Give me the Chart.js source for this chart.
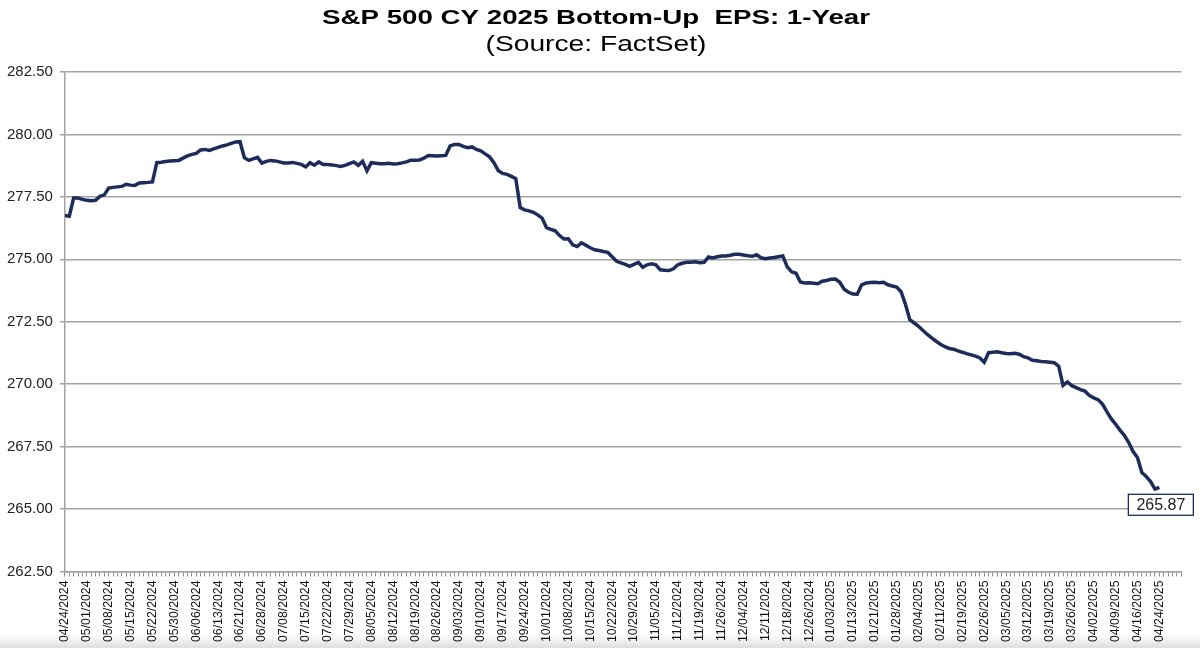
<!DOCTYPE html>
<html>
<head>
<meta charset="utf-8">
<title>S&amp;P 500 CY 2025 Bottom-Up EPS: 1-Year</title>
<script src="https://cdn.jsdelivr.net/npm/chart.js@4.4.1/dist/chart.umd.min.js"></script>
<style>
  html, body { margin: 0; padding: 0; }
  body {
    width: 1200px; height: 648px; overflow: hidden;
    background: linear-gradient(to bottom, #ffffff 0px, #ffffff 634px, #dedede 648px);
    font-family: "Liberation Sans", Arial, sans-serif;
  }
  #wrap { position: relative; width: 1200px; height: 648px; }
</style>
</head>
<body>
<div id="wrap"><canvas id="epsChart"></canvas></div>
<script>
// Title texts
const chartTitle = "S&P 500 CY 2025 Bottom-Up  EPS: 1-Year";
const chartSubtitle = "(Source: FactSet)";

// Tick labels on the x axis, one every 5 trading days
const weekLabels = [
  "04/24/2024", "05/01/2024", "05/08/2024", "05/15/2024", "05/22/2024", "05/30/2024",
  "06/06/2024", "06/13/2024", "06/21/2024", "06/28/2024", "07/08/2024", "07/15/2024",
  "07/22/2024", "07/29/2024", "08/05/2024", "08/12/2024", "08/19/2024", "08/26/2024",
  "09/03/2024", "09/10/2024", "09/17/2024", "09/24/2024", "10/01/2024", "10/08/2024",
  "10/15/2024", "10/22/2024", "10/29/2024", "11/05/2024", "11/12/2024", "11/19/2024",
  "11/26/2024", "12/04/2024", "12/11/2024", "12/18/2024", "12/26/2024", "01/03/2025",
  "01/13/2025", "01/21/2025", "01/28/2025", "02/04/2025", "02/11/2025", "02/19/2025",
  "02/26/2025", "03/05/2025", "03/12/2025", "03/19/2025", "03/26/2025", "04/02/2025",
  "04/09/2025", "04/16/2025", "04/24/2025"
];

// Daily bottom-up EPS (trading days), 5 per row
const epsDaily = [
  276.75, 276.72, 277.45, 277.45, 277.40,
  277.36, 277.34, 277.36, 277.52, 277.58,
  277.85, 277.88, 277.90, 277.92, 278.00,
  277.97, 277.96, 278.06, 278.07, 278.08,
  278.10, 278.87, 278.89, 278.92, 278.94,
  278.95, 278.96, 279.05, 279.14, 279.20,
  279.24, 279.38, 279.40, 279.36, 279.42,
  279.48, 279.54, 279.58, 279.64, 279.70,
  279.71, 279.07, 278.96, 279.02, 279.08,
  278.85, 278.92, 278.96, 278.94, 278.90,
  278.86, 278.86, 278.88, 278.84, 278.80,
  278.70, 278.87, 278.77, 278.90, 278.80,
  278.80, 278.78, 278.75, 278.72, 278.76,
  278.83, 278.90, 278.76, 278.93, 278.54,
  278.87, 278.85, 278.83, 278.83, 278.85,
  278.82, 278.83, 278.86, 278.90, 278.97,
  278.97, 278.98, 279.05, 279.16, 279.15,
  279.14, 279.15, 279.16, 279.54, 279.60,
  279.60, 279.52, 279.47, 279.50, 279.40,
  279.34, 279.22, 279.10, 278.87, 278.55,
  278.44, 278.40, 278.32, 278.23, 277.07,
  276.98, 276.94, 276.88, 276.78, 276.65,
  276.27, 276.20, 276.14, 275.95, 275.81,
  275.82, 275.58, 275.51, 275.66, 275.56,
  275.46, 275.38, 275.35, 275.31, 275.28,
  275.10, 274.92, 274.86, 274.80, 274.72,
  274.80, 274.88, 274.68, 274.78, 274.82,
  274.78, 274.58, 274.56, 274.55, 274.62,
  274.78, 274.84, 274.88, 274.88, 274.90,
  274.86, 274.88, 275.09, 275.05, 275.10,
  275.13, 275.13, 275.16, 275.20, 275.20,
  275.17, 275.14, 275.12, 275.18, 275.06,
  275.02, 275.05, 275.07, 275.10, 275.13,
  274.70, 274.50, 274.44, 274.09, 274.05,
  274.06, 274.04, 274.02, 274.12, 274.15,
  274.20, 274.21, 274.08, 273.80, 273.68,
  273.61, 273.60, 273.98, 274.05, 274.07,
  274.08, 274.06, 274.08, 273.98, 273.93,
  273.89, 273.70, 273.20, 272.58, 272.45,
  272.32, 272.15, 271.99, 271.85, 271.72,
  271.60, 271.50, 271.43, 271.40, 271.33,
  271.28, 271.22, 271.17, 271.12, 271.05,
  270.88, 271.26, 271.28, 271.30, 271.26,
  271.23, 271.22, 271.24, 271.20, 271.10,
  271.05, 270.96, 270.94, 270.91, 270.90,
  270.88, 270.86, 270.72, 269.95, 270.09,
  269.94, 269.86, 269.78, 269.72, 269.55,
  269.45, 269.38, 269.20, 268.90, 268.62,
  268.40, 268.16, 267.95, 267.66, 267.30,
  267.06, 266.46, 266.30, 266.10, 265.80,
  265.87
];

const lineColor = '#1d2c5a';
const gridColor = '#a3a3a3';

// titles drawn with a horizontal stretch like the original picture
const headings = {
  id: 'headings',
  afterDraw(c) {
    const ctx = c.ctx;
    const drawStretched = (text, font, width, cx, baseline) => {
      ctx.save();
      ctx.font = font;
      const w = ctx.measureText(text).width;
      const k = width / w;
      ctx.translate(cx, baseline);
      ctx.scale(k, 1);
      ctx.fillStyle = '#000';
      ctx.textAlign = 'center';
      ctx.textBaseline = 'alphabetic';
      ctx.fillText(text, 0, 0);
      ctx.restore();
    };
    drawStretched(chartTitle, 'bold 20px "Liberation Sans", Arial, sans-serif', 548, 596, 24);
    drawStretched(chartSubtitle, '22px "Liberation Sans", Arial, sans-serif', 221, 596, 51);
  }
};

// boxed value label at the last point
const lastLabel = {
  id: 'lastLabel',
  afterDatasetsDraw(c) {
    const meta = c.getDatasetMeta(0);
    const pt = meta.data[meta.data.length - 1];
    const ctx = c.ctx;
    const text = epsDaily[epsDaily.length - 1].toFixed(2);
    ctx.save();
    ctx.font = '16px "Liberation Sans", Arial, sans-serif';
    const w = 65, h = 21;
    const bx = pt.x - 31, by = pt.y + 7;
    ctx.fillStyle = '#fff';
    ctx.fillRect(bx, by, w, h);
    ctx.strokeStyle = lineColor;
    ctx.lineWidth = 1.3;
    ctx.strokeRect(bx, by, w, h);
    ctx.fillStyle = '#222';
    ctx.textAlign = 'center';
    ctx.textBaseline = 'middle';
    ctx.fillText(text, bx + w / 2, by + h / 2 + 1);
    ctx.restore();
  }
};

const ctx = document.getElementById('epsChart').getContext('2d');
const chart = new Chart(ctx, {
  type: 'line',
  data: {
    datasets: [{
      label: 'EPS',
      data: epsDaily.map((v, i) => ({ x: i, y: v })),
      borderColor: lineColor,
      borderWidth: 3.5,
      pointRadius: 0,
      tension: 0,
      fill: false
    }]
  },
  options: {
    responsive: true,
    maintainAspectRatio: false,
    animation: false,
    layout: { padding: { top: 72, left: 0, right: 18, bottom: 2 } },
    plugins: {
      legend: { display: false },
      title: { display: false },
      tooltip: { enabled: false }
    },
    scales: {
      x: {
        type: 'linear',
        min: 0,
        max: 255,
        grid: { drawOnChartArea: false, drawTicks: true, tickLength: 5, color: '#8c8c8c' },
        border: { display: true, color: gridColor, width: 1.5 },
        ticks: {
          stepSize: 1,
          autoSkip: false,
          maxTicksLimit: 400,
          minRotation: 90,
          maxRotation: 90,
          padding: 4,
          color: '#111',
          font: { family: '"Liberation Sans", Arial, sans-serif', size: 12.3 },
          callback: (v) => {
            const i = Math.round(v);
            return (i % 5 === 0 && i / 5 < weekLabels.length) ? weekLabels[i / 5] : '';
          }
        }
      },
      y: {
        min: 262.5,
        max: 282.5,
        grid: { color: gridColor, lineWidth: 1.5, tickLength: 5 },
        border: { display: true, color: gridColor, width: 1.5 },
        ticks: {
          stepSize: 2.5,
          padding: 7,
          color: '#222',
          font: { family: '"Liberation Sans", Arial, sans-serif', size: 15 },
          callback: (v) => Number(v).toFixed(2)
        }
      }
    }
  },
  plugins: [headings, lastLabel]
});
</script>
</body>
</html>
